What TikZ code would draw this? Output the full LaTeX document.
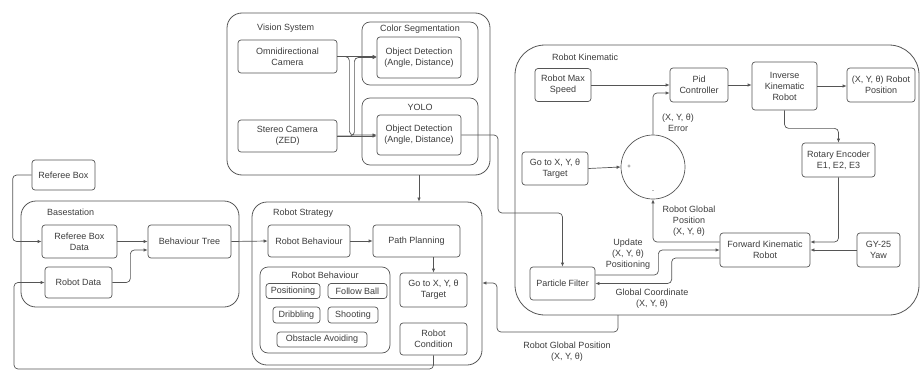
\documentclass[tikz,border=0pt]{standalone}
\usepackage{fontspec}
\setmainfont{Liberation Sans}
\usetikzlibrary{arrows.meta,calc}
\definecolor{lnc}{HTML}{555555}
\definecolor{txt}{HTML}{3C3C3C}
\begin{document}
\begin{tikzpicture}[x=1pt,y=-1pt,
  every node/.style={font=\fontsize{9}{11}\selectfont, text=txt},
  box/.style={draw=lnc, line width=0.7pt, rounded corners=3pt, align=center, inner sep=1pt, fill=white},
  grp/.style={draw=lnc, line width=0.7pt, rounded corners=8pt, inner sep=0pt},
  cont/.style={draw=lnc, line width=0.8pt, rounded corners=15pt, inner sep=0pt},
  lbl/.style={align=center, inner sep=0pt},
  arr/.style={draw=lnc, line width=0.7pt, -{Latex[length=4pt,width=3.5pt]}, rounded corners=4pt}]
\useasboundingbox (0,0) rectangle (921,372);

% ---------- containers ----------
\node[cont, minimum width=263pt, minimum height=162pt] (vis) at (358.5,94) {};
\node[grp, minimum width=116pt, minimum height=63pt] (cseg) at (420,53.5) {};
\node[grp, minimum width=116pt, minimum height=67pt] (yolo) at (420,131.5) {};
\node[cont, minimum width=230pt, minimum height=163pt] (rs) at (367,283.5) {};
\node[grp, minimum width=130pt, minimum height=86pt] (rbg) at (325,310) {};
\node[cont, minimum width=218pt, minimum height=106pt] (bs) at (130,254) {};
\node[cont, rounded corners=30pt, minimum width=404pt, minimum height=270pt] (rk) at (717,180) {};

% ---------- container labels ----------
\node[lbl, anchor=west] (lvis) at (257,28) {Vision System};
\node[lbl] (lcseg) at (420,29) {Color Segmentation};
\node[lbl] (lyolo) at (420,107) {YOLO};
\node[lbl, anchor=west] (lrs) at (273,213) {Robot Strategy};
\node[lbl] (lrbg) at (325,275) {Robot Behaviour};
\node[lbl, anchor=west] (lbs) at (47,212) {Basestation};
\node[lbl, anchor=west] (lrk) at (552,57) {Robot Kinematic};

% ---------- vision system ----------
\node[box, minimum width=99pt, minimum height=33pt] (omni) at (287.5,56.5) {Omnidirectional\\Camera};
\node[box, minimum width=99pt, minimum height=32pt] (stereo) at (287.5,136) {Stereo Camera\\(ZED)};
\node[box, minimum width=84pt, minimum height=41pt] (odc) at (419,57.5) {Object Detection\\(Angle, Distance)};
\node[box, minimum width=84pt, minimum height=40pt] (ody) at (419,135) {Object Detection\\(Angle, Distance)};

% ---------- robot strategy ----------
\node[box, minimum width=82pt, minimum height=32pt] (rb) at (309,241) {Robot Behaviour};
\node[box, minimum width=87pt, minimum height=32pt] (pp) at (416.5,241) {Path Planning};
\node[box, minimum width=54pt, minimum height=15pt] (pos) at (293,291) {Positioning};
\node[box, minimum width=59pt, minimum height=15pt] (fb) at (357.5,291) {Follow Ball};
\node[box, minimum width=47pt, minimum height=16pt] (drb) at (296.5,315) {Dribbling};
\node[box, minimum width=50pt, minimum height=16pt] (sht) at (353,315) {Shooting};
\node[box, minimum width=90pt, minimum height=15pt] (obs) at (322,339.5) {Obstacle Avoiding};
\node[box, minimum width=67pt, minimum height=34pt] (gt1) at (433.5,290) {Go to X, Y, θ\\Target};
\node[box, minimum width=67pt, minimum height=32pt] (rc) at (433.5,339) {Robot\\Condition};

% ---------- basestation ----------
\node[box, minimum width=63pt, minimum height=30pt] (ref) at (63.5,175) {Referee Box};
\node[box, minimum width=75pt, minimum height=33pt] (rbd) at (79.5,241.5) {Referee Box\\Data};
\node[box, minimum width=67pt, minimum height=31pt] (rd) at (78.5,282.5) {Robot Data};
\node[box, minimum width=83pt, minimum height=33pt] (bt) at (189.5,241.5) {Behaviour Tree};

% ---------- robot kinematic ----------
\node[box, minimum width=56pt, minimum height=33pt] (rms) at (563,85) {Robot Max\\Speed};
\node[box, minimum width=58pt, minimum height=34pt] (pid) at (699,85) {Pid\\Controller};
\node[box, minimum width=65pt, minimum height=48pt] (ik) at (784.5,86) {Inverse\\Kinematic\\Robot};
\node[box, minimum width=68pt, minimum height=34pt] (xyrp) at (881,85) {(X, Y, θ) Robot\\Position};
\node[box, minimum width=66pt, minimum height=33pt] (gt2) at (555,168.5) {Go to X, Y, θ\\Target};
\node[draw=lnc, line width=0.7pt, circle, minimum size=64pt, inner sep=0pt] (sum) at (653,167) {};
\node[lbl, font=\fontsize{6}{6}\selectfont] (plus) at (629,167) {+};
\node[lbl, font=\fontsize{6}{6}\selectfont] (minus) at (653,192) {-};
\node[box, minimum width=73pt, minimum height=34pt] (rot) at (838.5,160) {Rotary Encoder\\E1, E2, E3};
\node[box, minimum width=90pt, minimum height=34pt] (fk) at (765,250) {Forward Kinematic\\Robot};
\node[box, minimum width=43pt, minimum height=34pt] (gy) at (878.5,250) {GY-25\\Yaw};
\node[box, minimum width=65pt, minimum height=33pt] (pf) at (562.5,283.5) {Particle Filter};

% ---------- edge labels ----------
\node[lbl] (lerr) at (678,122.5) {(X, Y, θ)\\Error};
\node[lbl] (lrgp) at (689,221) {Robot Global\\Position\\(X, Y, θ)};
\node[lbl] (lupd) at (628,254) {Update\\(X, Y, θ)\\Positioning};
\node[lbl] (lgc) at (652,299) {Global Coordinate\\(X, Y, θ)};
\node[lbl] (lrgp2) at (567,352) {Robot Global Position\\(X, Y, θ)};

% ---------- helper coordinates ----------
\coordinate (yb) at (498,213);
\coordinate (rgpA) at (618,315);
\coordinate (rgpB) at (497,332);
\coordinate (loopA) at (14,369);

% ---------- connectors: vision ----------
\draw[arr] (omni.east) -- (odc.west |- omni.east);
\draw[arr] (omni.east) -| ($(omni.east)+(12,40)$) |- (ody.west);
\draw[arr] (stereo.east) -- (ody.west |- stereo.east);
\draw[arr] (stereo.east) -| ($(stereo.east)+(17,-40)$) |- (odc.west);
\draw[arr] (ody.east) -| (yb) -| (pf.north);
\draw[arr] (vis.south -| ody) -- (rs.north -| ody);

% ---------- connectors: basestation / strategy ----------
\draw[arr] (ref.west) -- ++(-19,0) |- (rbd.west);
\draw[arr] (rbd.east) -- (bt.west);
\draw[arr] (rd.east) -- ++(18,0) |- ([yshift=-8.5pt]bt.west);
\draw[arr] (bt.east) -- (rb.west);
\draw[arr] (rb.east) -- (pp.west);
\draw[arr] (pp.south -| gt1) -- (gt1.north);
\draw[arr] (rc.south) |- (loopA) |- (rd.west);
\draw[arr] (rgpA) |- (rgpB) |- ($(rs.east |- gt1.east)+(0,-7)$);

% ---------- connectors: kinematic ----------
\draw[arr] (rms.east) -- (pid.west |- rms.east);
\draw[arr] (sum.north) |- ([yshift=-8pt]pid.west);
\draw[arr] (pid.east) -- (ik.west |- pid.east);
\draw[arr] (ik.east) -- (xyrp.west |- ik.east);
\draw[arr] (ik.south) -- ++(0,18) -| (rot.north);
\draw[arr] (gt2.east) -- (sum.west);
\draw[arr] (rot.south) |- ([yshift=8pt]fk.east);
\draw[arr] (gy.west) -- (fk.east);
\draw[arr] ([yshift=8pt]fk.west) -| (sum.south);
\draw[arr] ([yshift=8.5pt]pf.east) -- ++(63,0) |- (fk.west);
\draw[arr] ([yshift=-8pt]fk.west) -- ++(-48,0) |- (pf.east);
\end{tikzpicture}
\end{document}
